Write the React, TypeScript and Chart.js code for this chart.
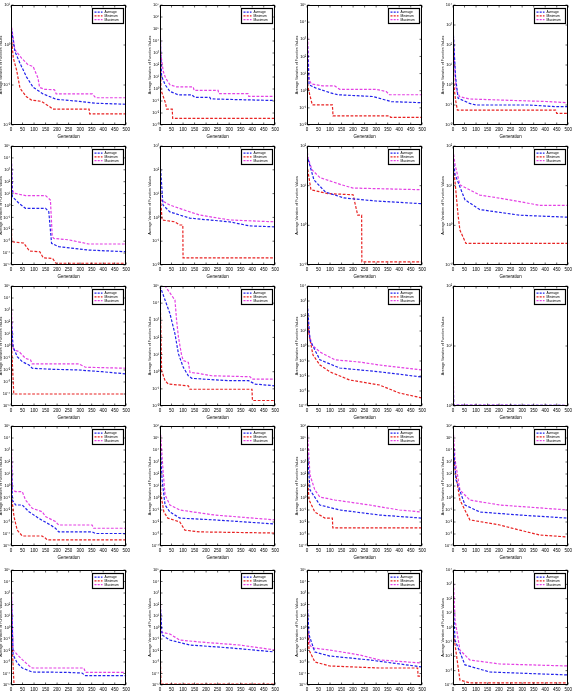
import React, { useEffect, useRef } from "react";
import { Chart, registerables } from "chart.js";

Chart.register(...registerables);

// ---------- data ----------
const seriesLabels = ["Average", "Minimum", "Maximum"];
const xTickValues = [0, 50, 100, 150, 200, 250, 300, 350, 400, 450, 500];
// y axis decade range (exponents of 10) for each panel, row by row
const yExponentRanges = [
  [-2, 1], [-3, 7], [-2, 5], [-2, 4],
  [-5, 5], [-2, 3], [-1, 2], [-1, 2],
  [-5, 5], [-2, 5], [-4, 4], [0, 2],
  [-5, 5], [-4, 6], [-4, 6], [-4, 6],
  [-5, 5], [-5, 5], [-5, 5], [-4, 4],
];

const p01Avg = [[0, 2.9], [17, 0.69], [39, 0.35], [67, 0.16], [96, 0.088], [139, 0.06], [196, 0.044], [296, 0.039], [367, 0.035], [500, 0.033]];
const p01Min = [[0, 2.0], [10, 0.47], [24, 0.24], [39, 0.083], [67, 0.051], [89, 0.042], [131, 0.039], [167, 0.029], [181, 0.025], [339, 0.025], [341, 0.019], [500, 0.019]];
const p01Max = [[0, 3.5], [17, 0.76], [46, 0.47], [74, 0.32], [96, 0.29], [117, 0.15], [124, 0.087], [146, 0.078], [189, 0.076], [196, 0.06], [353, 0.06], [367, 0.048], [500, 0.048]];

const p02Avg = [[0, 3e6], [3, 1e3], [7, 11.5], [22, 2.3], [43, 0.63], [79, 0.33], [137, 0.33], [151, 0.2], [216, 0.2], [220, 0.15], [367, 0.126], [500, 0.11]];
const p02Min = [[0, 1e6], [4, 0.87], [14, 0.24], [24, 0.066], [29, 0.021], [53, 0.021], [55, 0.0036], [500, 0.0036]];
const p02Max = [[0, 1e7], [3, 1e3], [14, 30], [24, 8.3], [43, 2.3], [72, 1.5], [144, 1.5], [148, 0.78], [252, 0.78], [255, 0.41], [382, 0.41], [385, 0.24], [500, 0.24]];

const p03Avg = [[0, 2300], [9, 2.2], [40, 1.4], [98, 0.78], [134, 0.58], [286, 0.46], [315, 0.36], [366, 0.23], [500, 0.2]];
const p03Min = [[0, 50], [4, 1.7], [12, 0.58], [23, 0.15], [110, 0.15], [113, 0.034], [358, 0.034], [363, 0.028], [500, 0.028]];
const p03Max = [[0, 14000], [9, 4.3], [19, 2.5], [69, 1.9], [120, 1.9], [142, 1.2], [300, 1.2], [344, 0.89], [358, 0.58], [500, 0.58]];

const p04Avg = [[0, 850], [11, 2.6], [22, 0.22], [72, 0.12], [100, 0.1], [330, 0.1], [445, 0.083], [500, 0.083]];
const p04Min = [[0, 200], [3, 1.2], [11, 0.18], [19, 0.056], [445, 0.056], [450, 0.038], [500, 0.038]];
const p04Max = [[0, 1000], [7, 8.5], [14, 0.56], [29, 0.26], [72, 0.2], [187, 0.18], [402, 0.15], [500, 0.13]];

const p05Avg = [[0, 1e5], [6, 5.5], [35, 1.5], [63, 0.58], [150, 0.58], [164, 0.3], [176, 6.6e-4], [207, 3.5e-4], [337, 1.8e-4], [500, 1.3e-4]];
const p05Min = [[0, 10], [3, 1e-3], [5, 9e-4], [55, 7e-4], [80, 1.5e-4], [125, 1.3e-4], [140, 4e-5], [180, 3.6e-5], [195, 1.4e-5], [500, 1.4e-5]];
const p05Max = [[0, 1e5], [6, 20], [13, 11], [63, 6.8], [150, 6.8], [171, 2.9], [179, 2.4e-3], [186, 1.7e-3], [251, 1.3e-3], [337, 5.8e-4], [500, 5.8e-4]];

const p06Avg = [[0, 260], [13, 3.3], [43, 1.7], [129, 0.93], [302, 0.65], [388, 0.44], [500, 0.4]];
const p06Min = [[0, 14], [9, 0.78], [65, 0.65], [86, 0.48], [99, 0.48], [100, 0.02], [500, 0.02]];
const p06Max = [[0, 1000], [3, 5.4], [43, 3.3], [108, 2.0], [172, 1.26], [302, 0.78], [500, 0.65]];

const p07Avg = [[0, 59], [30, 14], [80, 6.9], [160, 4.9], [300, 4.1], [500, 3.5]];
const p07Min = [[0, 33], [17, 7.9], [90, 6.3], [200, 5.9], [220, 1.8], [237, 1.8], [238, 0.12], [500, 0.12]];
const p07Max = [[0, 89], [4, 50], [22, 25], [56, 16], [150, 10.5], [200, 8.7], [500, 7.9]];

const p08Avg = [[0, 45], [9, 19], [52, 4.4], [116, 2.5], [290, 1.8], [500, 1.6]];
const p08Min = [[0, 45], [22, 1.8], [30, 0.76], [56, 0.35], [500, 0.35]];
const p08Max = [[0, 79], [9, 33], [30, 10.5], [116, 5.8], [246, 4.4], [375, 3.2], [500, 3.2]];

const p09Avg = [[0, 520], [9, 0.87], [27, 0.13], [49, 0.049], [78, 0.026], [92, 0.014], [179, 0.0115], [294, 0.01], [395, 0.0072], [500, 0.0047]];
const p09Min = [[0, 11.5], [6, 0.036], [12, 1e-4], [500, 1e-4]];
const p09Max = [[0, 1e5], [6, 1.7], [13, 0.47], [35, 0.34], [63, 0.093], [85, 0.068], [92, 0.032], [294, 0.032], [323, 0.017], [500, 0.014]];

const p10Avg = [[0, 1e5], [22, 1.5e4], [43, 2500], [65, 160], [80, 11], [101, 1.8], [123, 0.58], [138, 0.41], [297, 0.3], [384, 0.3], [413, 0.19], [500, 0.15]];
const p10Min = [[0, 1e5], [7, 1.15], [22, 0.3], [36, 0.19], [123, 0.15], [130, 0.095], [399, 0.095], [401, 0.021], [500, 0.021]];
const p10Max = [[0, 1e5], [22, 1e5], [65, 1.5e4], [72, 1000], [80, 105], [94, 8.7], [101, 4.5], [123, 3.5], [130, 0.91], [167, 0.8], [225, 0.58], [391, 0.51], [399, 0.37], [500, 0.37]];

const p11Avg = [[0, 1200], [13, 2.5], [34, 0.54], [56, 0.12], [142, 0.034], [315, 0.019], [500, 0.0085]];
const p11Min = [[0, 250], [9, 5.4], [26, 0.25], [56, 0.054], [99, 0.019], [185, 0.0054], [315, 0.0025], [400, 7.4e-4], [500, 3.4e-4]];
const p11Max = [[0, 1e4], [4, 12], [22, 1.17], [56, 0.4], [121, 0.12], [228, 0.085], [315, 0.054], [500, 0.025]];

const p12Avg = [[0, 5], [3, 1.03], [500, 1.02]];
const p12Min = [[0, 1.5], [3, 1.02], [500, 1.02]];
const p12Max = [[0, 23], [3, 1.04], [500, 1.02]];

const p13Avg = [[0, 1e4], [6, 0.068], [20, 0.026], [49, 0.026], [78, 0.0072], [121, 0.002], [171, 5.6e-4], [193, 3e-4], [207, 1.5e-4], [352, 1.5e-4], [366, 1.1e-4], [500, 1.1e-4]];
const p13Min = [[0, 0.87], [6, 0.036], [13, 0.0028], [27, 2.1e-4], [49, 6.8e-5], [135, 6.8e-5], [150, 4.4e-5], [157, 3.2e-5], [500, 3.2e-5]];
const p13Max = [[0, 1e5], [6, 0.47], [20, 0.34], [49, 0.34], [63, 0.068], [92, 0.014], [135, 0.0072], [150, 0.0028], [193, 0.0011], [207, 5.6e-4], [352, 5.6e-4], [359, 3e-4], [500, 3e-4]];

const p14Avg = [[0, 6.8e4], [9, 32], [22, 0.26], [43, 0.068], [86, 0.021], [237, 0.015], [500, 0.0068]];
const p14Min = [[0, 210], [4, 1.8], [17, 0.068], [34, 0.021], [86, 0.01], [108, 0.0021], [172, 0.0015], [500, 0.0012]];
const p14Max = [[0, 1e6], [13, 210], [22, 1.8], [43, 0.26], [86, 0.1], [237, 0.038], [500, 0.015]];

const p15Avg = [[0, 2.6e4], [13, 4.7], [56, 0.26], [142, 0.1], [315, 0.038], [500, 0.021]];
const p15Min = [[0, 210], [9, 0.68], [34, 0.068], [78, 0.021], [110, 0.021], [112, 0.0032], [500, 0.0032]];
const p15Max = [[0, 1e6], [13, 83], [34, 4.7], [56, 1.2], [121, 0.68], [272, 0.26], [401, 0.1], [500, 0.068]];

const p16Avg = [[0, 6.8e4], [13, 32], [52, 0.26], [116, 0.068], [290, 0.038], [500, 0.021]];
const p16Min = [[0, 1e4], [9, 210], [30, 0.68], [73, 0.015], [203, 0.0056], [290, 0.0021], [375, 8.3e-4], [500, 5.6e-4]];
const p16Max = [[0, 1e6], [9, 1500], [30, 4.7], [73, 0.68], [203, 0.26], [375, 0.15], [500, 0.1]];

const p17Avg = [[0, 1e4], [9, 0.0043], [27, 8.1e-4], [49, 3e-4], [92, 1.35e-4], [236, 1.26e-4], [308, 1.1e-4], [323, 6.5e-5], [500, 6.5e-5]];
const p17Min = [[0, 0.17], [6, 0.0115], [13, 1.1e-5], [500, 1.1e-5]];
const p17Max = [[0, 1e5], [9, 0.0115], [27, 0.0043], [49, 0.0016], [78, 4.8e-4], [92, 3e-4], [316, 3e-4], [323, 1.26e-4], [500, 1.26e-4]];

const p18Avg = [[0, 250], [9, 0.22], [43, 0.081], [129, 0.03], [302, 0.017], [500, 0.0074]];
const p18Min = [[0, 0.081], [4, 1.2e-5], [500, 1.2e-5]];
const p18Max = [[0, 1e5], [4, 0.41], [43, 0.27], [86, 0.081], [172, 0.055], [345, 0.03], [500, 0.011]];

const p19Avg = [[0, 250], [9, 0.22], [34, 0.0074], [99, 0.0033], [272, 0.0015], [500, 3.7e-4]];
const p19Min = [[0, 4.5], [9, 0.011], [34, 0.001], [99, 4.5e-4], [315, 3e-4], [480, 3e-4], [482, 6e-5], [500, 6e-5]];
const p19Max = [[0, 1e5], [4, 0.6], [13, 0.03], [22, 0.017], [99, 0.011], [228, 0.0041], [315, 0.0015], [500, 8.1e-4]];

const p20Avg = [[0, 83], [9, 0.13], [52, 0.0025], [160, 8e-4], [500, 5e-4]];
const p20Min = [[0, 0.68], [30, 2.2e-4], [73, 1.4e-4], [500, 1.4e-4]];
const p20Max = [[0, 1e4], [9, 3.3], [30, 0.027], [73, 0.0055], [203, 0.0029], [500, 0.0021]];

const panelSeries = [
  [p01Avg, p01Min, p01Max], [p02Avg, p02Min, p02Max], [p03Avg, p03Min, p03Max], [p04Avg, p04Min, p04Max],
  [p05Avg, p05Min, p05Max], [p06Avg, p06Min, p06Max], [p07Avg, p07Min, p07Max], [p08Avg, p08Min, p08Max],
  [p09Avg, p09Min, p09Max], [p10Avg, p10Min, p10Max], [p11Avg, p11Min, p11Max], [p12Avg, p12Min, p12Max],
  [p13Avg, p13Min, p13Max], [p14Avg, p14Min, p14Max], [p15Avg, p15Min, p15Max], [p16Avg, p16Min, p16Max],
  [p17Avg, p17Min, p17Max], [p18Avg, p18Min, p18Max], [p19Avg, p19Min, p19Max], [p20Avg, p20Min, p20Max],
];

// ---------- layout & style ----------
const COL_LEFT = [11, 160, 307, 453];
const ROW_TOP = [5, 146, 286, 426, 570];
const ROW_H = [120, 119, 120, 120, 115];
const PLOT_W = 116;
const Y_AXIS_W = 12;
const TOP_PAD = 5;
const RIGHT_PAD = 5;
const X_AXIS_H = 14;
const FONT = "'Liberation Sans', Arial, Helvetica, sans-serif";
const COLORS = ["rgb(35,35,235)", "rgb(232,35,35)", "rgb(228,65,228)"];

const SUP: Record<string, string> = {
  "-": "⁻", "0": "⁰", "1": "¹", "2": "²", "3": "³", "4": "⁴", "5": "⁵", "6": "⁶", "7": "⁷", "8": "⁸", "9": "⁹",
};
const pow10Label = (e: number) => "10" + String(e).split("").map((c) => SUP[c] || c).join("");

const framePlugin = {
  id: "matlabFrame",
  afterDatasetsDraw(chart: any) {
    const { ctx, chartArea: a, scales } = chart;
    ctx.save();
    ctx.strokeStyle = "#000";
    ctx.lineWidth = 1;
    ctx.setLineDash([]);
    const L = Math.round(a.left) + 0.5, R = Math.round(a.right) - 0.5;
    const T = Math.round(a.top) + 0.5, B = Math.round(a.bottom) - 0.5;
    ctx.strokeRect(L, T, R - L, B - T);
    ctx.lineWidth = 0.6;
    ctx.beginPath();
    for (const t of scales.x.ticks) {
      const px = scales.x.getPixelForValue(t.value);
      ctx.moveTo(px, B); ctx.lineTo(px, B - 2);
      ctx.moveTo(px, T); ctx.lineTo(px, T + 2);
    }
    const ys = scales.y;
    for (const t of ys.ticks) {
      const py = ys.getPixelForValue(t.value);
      ctx.moveTo(L, py); ctx.lineTo(L + 2, py);
      ctx.moveTo(R, py); ctx.lineTo(R - 2, py);
    }
    ctx.stroke();
    // legend box
    const bw = 31, bh = 15;
    const bx = R - 2 - bw, by = T + 3;
    ctx.fillStyle = "#fff";
    ctx.fillRect(bx, by, bw, bh);
    ctx.lineWidth = 1.2;
    ctx.strokeRect(bx, by, bw, bh);
    chart.data.datasets.forEach((ds: any, i: number) => {
      const y = by + 3.7 + i * 3.7;
      ctx.beginPath();
      ctx.lineWidth = 1.2;
      ctx.setLineDash([2, 1.2]);
      ctx.strokeStyle = ds.borderColor;
      ctx.moveTo(bx + 2, y);
      ctx.lineTo(bx + 10, y);
      ctx.stroke();
      ctx.setLineDash([]);
      ctx.fillStyle = "#000";
      ctx.font = `3.3px ${FONT}`;
      ctx.textBaseline = "middle";
      ctx.textAlign = "left";
      ctx.fillText(ds.label, bx + 12, y);
    });
    ctx.restore();
  },
};

function Panel({ index }: { index: number }) {
  const ref = useRef<HTMLCanvasElement | null>(null);
  const row = Math.floor(index / 4);
  const col = index % 4;
  const plotH = ROW_H[row];
  const width = Y_AXIS_W + PLOT_W + RIGHT_PAD;
  const height = TOP_PAD + plotH + X_AXIS_H;

  useEffect(() => {
    if (!ref.current) return;
    const [lo, hi] = yExponentRanges[index];
    const series = panelSeries[index];
    const chart = new Chart(ref.current, {
      type: "line",
      data: {
        datasets: series.map((s, i) => ({
          label: seriesLabels[i],
          data: s.map(([x, y]) => ({ x, y })),
          borderColor: COLORS[i],
          backgroundColor: COLORS[i],
          borderWidth: 1.2,
          borderDash: [2.8, 1.6],
          pointRadius: 0,
          tension: 0,
          fill: false,
        })),
      },
      options: {
        responsive: false,
        animation: false,
        devicePixelRatio: 1,
        layout: { padding: { left: 0, right: RIGHT_PAD, top: TOP_PAD, bottom: 0 } },
        plugins: { legend: { display: false }, tooltip: { enabled: false }, title: { display: false } },
        scales: {
          x: {
            type: "linear",
            min: 0,
            max: 500,
            afterFit: (s: any) => { s.height = X_AXIS_H; },
            afterBuildTicks: (s: any) => { s.ticks = xTickValues.map((v) => ({ value: v })); },
            grid: { display: false, drawTicks: false, tickLength: 0 },
            border: { display: false },
            ticks: {
              autoSkip: false, maxRotation: 0, minRotation: 0, padding: 2, color: "#000",
              font: { size: 4.5, family: FONT },
              callback: (v: any) => String(v),
            },
            title: { display: true, text: "Generation", color: "#000", font: { size: 4.5, family: FONT }, padding: { top: 1, bottom: 0 } },
          },
          y: {
            type: "logarithmic",
            min: Math.pow(10, lo),
            max: Math.pow(10, hi),
            afterFit: (s: any) => { s.width = Y_AXIS_W; },
            afterBuildTicks: (s: any) => {
              const t = [];
              for (let e = lo; e <= hi; e++) t.push({ value: Math.pow(10, e) });
              s.ticks = t;
            },
            grid: { display: false, drawTicks: false, tickLength: 0 },
            border: { display: false },
            ticks: {
              autoSkip: false, padding: 1, color: "#000",
              font: { size: 4, family: FONT },
              callback: (v: any) => pow10Label(Math.round(Math.log10(Number(v)))),
            },
            title: { display: true, text: "Average Variation of Function Values", color: "#000", font: { size: 3.6, family: FONT }, padding: 0 },
          },
        },
      },
      plugins: [framePlugin],
    } as any);
    return () => chart.destroy();
  }, [index]);

  return (
    <canvas
      ref={ref}
      width={width}
      height={height}
      style={{
        position: "absolute",
        left: COL_LEFT[col] - Y_AXIS_W,
        top: ROW_TOP[row] - TOP_PAD,
        width,
        height,
      }}
    />
  );
}

export default function App() {
  return (
    <div
      style={{
        position: "fixed",
        left: 0,
        top: 0,
        width: 575,
        height: 693,
        overflow: "hidden",
        background: "#fff",
      }}
    >
      {panelSeries.map((_, i) => (
        <Panel key={i} index={i} />
      ))}
    </div>
  );
}
